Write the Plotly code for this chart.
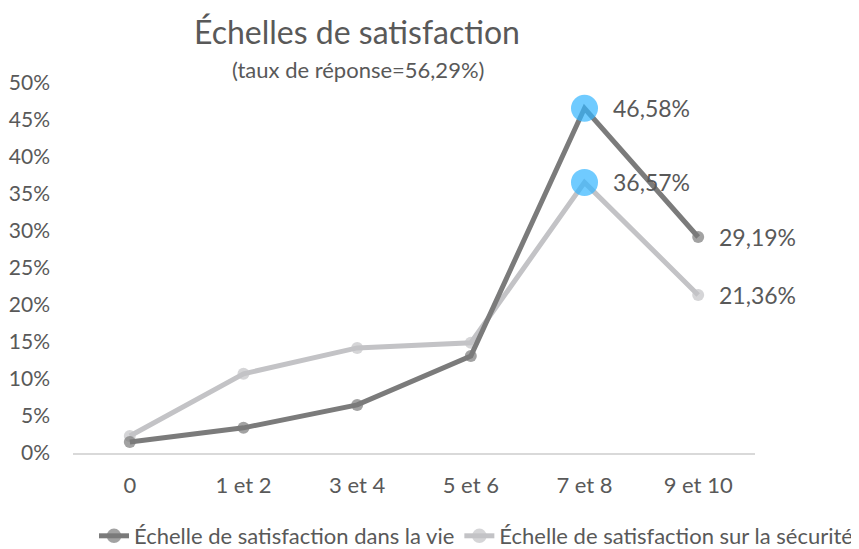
import plotly.graph_objects as go

categories = ["0", "1 et 2", "3 et 4", "5 et 6", "7 et 8", "9 et 10"]
vie = [0.015, 0.034, 0.065, 0.131, 0.4658, 0.2919]
securite = [0.023, 0.107, 0.142, 0.149, 0.3657, 0.2136]
series_names = ["Échelle de satisfaction dans la vie", "Échelle de satisfaction sur la sécurité"]
labelled = [4, 5]
highlight = 4

FONT = "Lato"
dark = "#7b7b7b"
light = "#c3c3c6"
blue = "#33b5ff"
txt = "#595959"

# page has an 8px body margin; figure coordinates are reference minus 8
W, H = 851, 541
L, R, T, B = 65, 747, 75, 445


def fmt(v):
    return f"{v*100:.2f}".replace(".", ",") + "%"


def series(vals, name, color):
    sizes = [27 if i == highlight else 12 for i in range(len(vals))]
    colors = [blue if i == highlight else color for i in range(len(vals))]
    return go.Scatter(
        x=categories, y=vals, name=name, mode="lines+markers",
        line=dict(color=color, width=5),
        marker=dict(size=sizes, color=colors, line=dict(width=0)),
        cliponaxis=False,
    )


fig = go.Figure()
fig.add_trace(series(securite, series_names[1], light))
fig.add_trace(series(vie, series_names[0], dark))

pw, ph = R - L, B - T
annotations = [
    dict(text="Échelles de satisfaction", xref="paper", yref="paper",
         x=(349 - L) / pw, y=(B - 23) / ph, xanchor="center", yanchor="middle",
         showarrow=False, font=dict(family=FONT, size=32, color=txt)),
    dict(text="(taux de réponse=56,29%)", xref="paper", yref="paper",
         x=(350 - L) / pw, y=(B - 62) / ph, xanchor="center", yanchor="middle",
         showarrow=False, font=dict(family=FONT, size=22, color=txt)),
]
for vals in (vie, securite):
    for i in labelled:
        annotations.append(dict(
            x=categories[i], y=vals[i], xref="x", yref="y", text=fmt(vals[i]),
            showarrow=False, xanchor="left", yanchor="middle",
            xshift=26 if i == highlight else 19,
            font=dict(family=FONT, size=23, color=txt)))

fig.update_layout(
    width=W, height=H,
    paper_bgcolor="white", plot_bgcolor="white",
    margin=dict(l=L, r=W - R, t=T, b=H - B, autoexpand=False),
    separators=", ",
    font=dict(family=FONT, color=txt, size=21),
    showlegend=True,
    legend=dict(orientation="h", x=(850 - L) / pw, xanchor="right",
                y=(B - 528) / ph, yanchor="middle",
                traceorder="reversed", font=dict(size=22, color=txt, family=FONT),
                itemwidth=30, tracegroupgap=0),
    xaxis=dict(type="category", range=[-0.5, len(categories) - 0.5],
               showgrid=False, showline=True, linecolor="#d9d9d9",
               linewidth=2, ticks="", tickfont=dict(size=22, color=txt), zeroline=False,
               ticklabelstandoff=12),
    yaxis=dict(range=[0, 0.5], dtick=0.05, tickformat=".0%", showgrid=False,
               showline=False, zeroline=False, ticks="", ticklabelstandoff=22,
               tickfont=dict(size=21, color=txt)),
    annotations=annotations,
)

fig.write_html("out.html")
